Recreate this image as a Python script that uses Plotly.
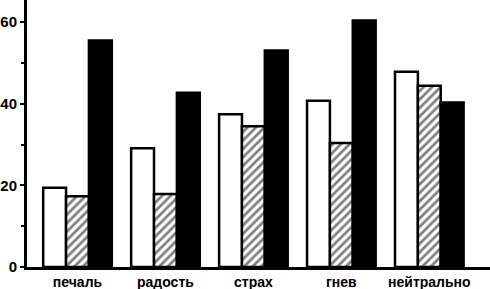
import plotly.graph_objects as go

categories = ["печаль", "радость", "страх", "гнев", "нейтрально"]
series_white = [19.4, 29.1, 37.4, 40.7, 47.8]
series_hatched = [17.3, 17.9, 34.5, 30.4, 44.4]
series_black = [55.5, 42.7, 53.0, 60.4, 40.3]
y_ticks = [0, 20, 40, 60]

fig = go.Figure()
fig.add_trace(go.Bar(x=categories, y=series_white,
                     marker=dict(color="white", line=dict(color="black", width=2.5))))
fig.add_trace(go.Bar(x=categories, y=series_hatched,
                     marker=dict(color="white", line=dict(color="black", width=2.5),
                                 pattern=dict(shape="/", fgcolor="black", bgcolor="white",
                                              size=6, solidity=0.45))))
fig.add_trace(go.Bar(x=categories, y=series_black,
                     marker=dict(color="black", line=dict(color="black", width=2.5))))

fig.update_layout(
    width=490, height=289,
    margin=dict(l=27, r=0, t=0, b=22),
    barmode="group", bargap=0.22, bargroupgap=0,
    showlegend=False,
    plot_bgcolor="white", paper_bgcolor="white",
    font=dict(family="Liberation Sans", color="black"),
)
fig.update_xaxes(
    range=[-0.574, 4.69], showline=True, linecolor="black", linewidth=3,
    ticks="", showgrid=False, automargin=False,
    tickfont=dict(size=14, family="Liberation Sans", weight="bold"),
)
fig.update_yaxes(
    range=[0, 65.4], showline=True, linecolor="black", linewidth=3,
    tickvals=y_ticks, ticks="outside", ticklen=4, tickwidth=2, tickcolor="black",
    minor=dict(tickvals=[10, 30, 50], ticks="outside", ticklen=3, tickwidth=2, tickcolor="black"),
    showgrid=False, zeroline=False, automargin=False,
    tickfont=dict(size=15, family="Liberation Sans", weight="bold"),
)
fig.write_html("out.html")
